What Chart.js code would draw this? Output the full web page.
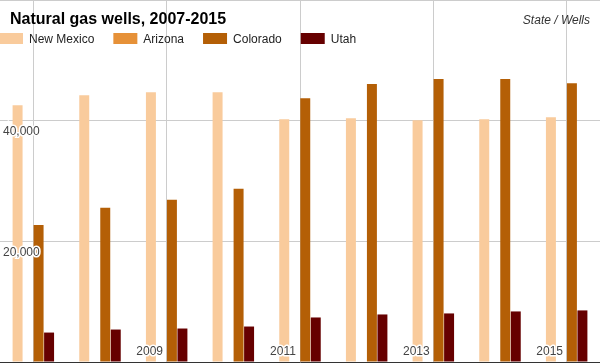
<!DOCTYPE html>
<html>
<head>
<meta charset="utf-8">
<title>Natural gas wells, 2007-2015</title>
<script src="https://cdn.jsdelivr.net/npm/chart.js@4"></script>
<style>
  html, body { margin: 0; padding: 0; background: #fff; }
  #wrap { width: 600px; height: 363px; }
</style>
</head>
<body>
<div id="wrap"><canvas id="chart" width="600" height="363"></canvas></div>
<script>
// Chart data
const chartTitle = 'Natural gas wells, 2007-2015';
const axisNote = 'State / Wells';
const years = ['2007', '2008', '2009', '2010', '2011', '2012', '2013', '2014', '2015'];
const yearLabels = ['2009', '2011', '2013', '2015'];
const newMexico = [42550, 44220, 44720, 44720, 40220, 40390, 40050, 40220, 40550];
const arizona = [0, 0, 0, 0, 0, 0, 0, 0, 0];
const colorado = [22720, 25550, 26890, 28720, 43720, 46060, 46890, 46890, 46220];
const utah = [4880, 5380, 5550, 5880, 7380, 7880, 8050, 8380, 8550];
const yMax = 60000;
const yStep = 20000;

const FONT = '"Liberation Sans", Arial, sans-serif';
Chart.defaults.font.family = FONT;

// Title, unit note and legend are drawn over the plot area
const headerPlugin = {
  id: 'header',
  afterDraw(chart) {
    const ctx = chart.ctx;
    ctx.save();
    ctx.textBaseline = 'alphabetic';
    ctx.textAlign = 'left';
    ctx.fillStyle = '#000';
    ctx.font = 'bold 16px ' + FONT;
    ctx.fillText(chartTitle, 10, 24);

    ctx.textAlign = 'right';
    ctx.fillStyle = '#333';
    ctx.font = 'italic 12px ' + FONT;
    ctx.fillText(axisNote, 590, 24);

    ctx.textAlign = 'left';
    ctx.font = '12px ' + FONT;
    let x = -1;
    chart.data.datasets.forEach((ds) => {
      ctx.fillStyle = ds.backgroundColor;
      ctx.fillRect(x, 33, 24, 11);
      ctx.fillStyle = '#222';
      ctx.fillText(ds.label, x + 30, 43);
      x += 30 + ctx.measureText(ds.label).width + 19;
    });
    ctx.restore();
  }
};

// Year labels sit inside the plot, just left of their grid line
const yearLabelPlugin = {
  id: 'yearLabels',
  afterDatasetsDraw(chart) {
    const ctx = chart.ctx;
    const xScale = chart.scales.x;
    const y = chart.chartArea.bottom - 10;
    ctx.save();
    ctx.font = '12px ' + FONT;
    ctx.textAlign = 'center';
    ctx.textBaseline = 'middle';
    ctx.lineWidth = 3;
    ctx.lineJoin = 'round';
    ctx.strokeStyle = '#fff';
    ctx.fillStyle = '#444';
    yearLabels.forEach((yr) => {
      const x = xScale.getPixelForValue(years.indexOf(yr)) - 17;
      ctx.strokeText(yr, x, y);
      ctx.fillText(yr, x, y);
    });
    ctx.restore();
  }
};

const tickFont = { size: 12, family: FONT };

new Chart(document.getElementById('chart'), {
  type: 'bar',
  data: {
    labels: years,
    datasets: [
      { label: 'New Mexico', data: newMexico, backgroundColor: '#f9cb9c' },
      { label: 'Arizona', data: arizona, backgroundColor: '#e69138' },
      { label: 'Colorado', data: colorado, backgroundColor: '#b45f06' },
      { label: 'Utah', data: utah, backgroundColor: '#660000' }
    ]
  },
  options: {
    responsive: false,
    animation: false,
    events: [],
    layout: { padding: 0 },
    datasets: {
      bar: { categoryPercentage: 0.63, barPercentage: 0.95, borderWidth: 0 }
    },
    plugins: {
      legend: { display: false },
      title: { display: false },
      tooltip: { enabled: false }
    },
    scales: {
      x: {
        grid: {
          offset: false,
          drawTicks: false,
          color: (c) => (c.index % 2 === 0 ? '#cccccc' : 'rgba(0,0,0,0)')
        },
        border: { display: true, color: '#333', width: 1 },
        ticks: { display: false },
        afterFit: (s) => {
          s.height = 1;
          s.paddingLeft = 0;
          s.paddingRight = 0;
        }
      },
      y: {
        min: 0,
        max: yMax,
        grid: {
          drawTicks: false,
          color: (c) => (c.tick && c.tick.value === 0 ? 'rgba(0,0,0,0)' : '#cccccc')
        },
        border: { display: false },
        ticks: {
          stepSize: yStep,
          mirror: true,
          padding: 3,
          labelOffset: 11,
          z: 1,
          color: '#444',
          font: tickFont,
          textStrokeColor: '#fff',
          textStrokeWidth: 3,
          callback: (v) => (v === 0 || v === yMax ? '' : v.toLocaleString('en-US'))
        },
        afterFit: (s) => {
          s.width = 0;
          s.paddingTop = 0;
          s.paddingBottom = 0;
        }
      }
    }
  },
  plugins: [yearLabelPlugin, headerPlugin]
});
</script>
</body>
</html>
